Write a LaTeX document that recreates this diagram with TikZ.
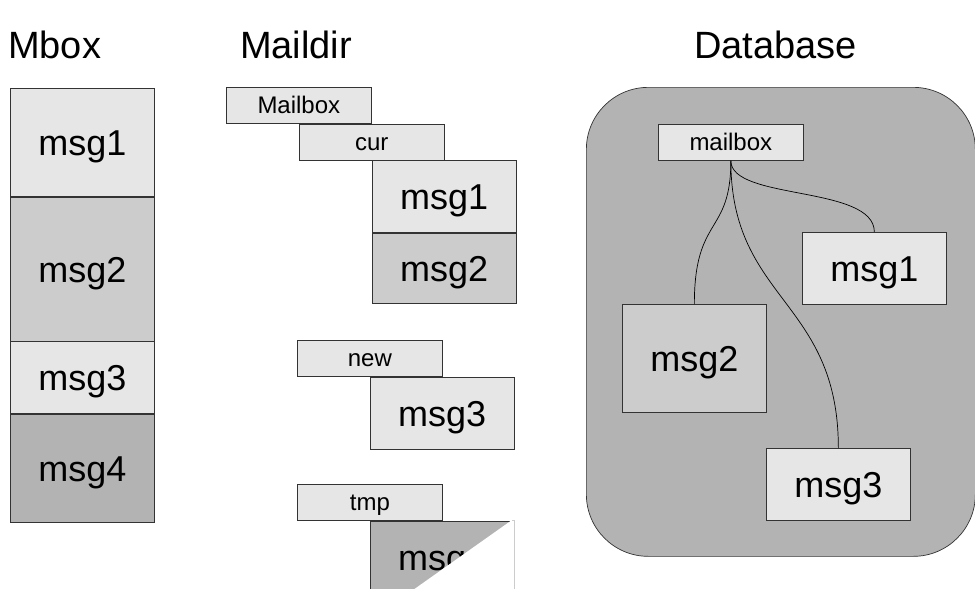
\documentclass[tikz,border=0pt]{standalone}
\usepackage{fontspec}
\setmainfont{Liberation Sans}
\usetikzlibrary{positioning}
\definecolor{msglight}{HTML}{E6E6E6}
\definecolor{msgmid}{HTML}{CCCCCC}
\definecolor{msgdark}{HTML}{B3B3B3}

\begin{document}
\begin{tikzpicture}[x=1pt, y=-1pt,
  msgbox/.style={draw=black!80, line width=0.7pt, minimum width=144pt, inner sep=0pt, anchor=north west, text height=26pt, text depth=0pt, font=\fontsize{36}{40}\selectfont},
  dirbox/.style={draw=black!80, line width=0.7pt, fill=msglight, minimum width=145pt, minimum height=36pt, inner sep=0pt, anchor=north west, text height=17pt, text depth=0pt, font=\fontsize{24}{28}\selectfont},
  title/.style={anchor=base west, inner sep=0pt, font=\fontsize{38}{44}\selectfont},
  link/.style={draw=black, line width=0.7pt}]
    \useasboundingbox (0,0) rectangle (975,589);

    % titles
    \node[title] (tmbox) at (8,58) {Mbox};
    \node[title] (tmaildir) at (240,58) {Maildir};
    \node[title] (tdb) at (694,58) {Database};

    % mbox: one file
    \node[msgbox, fill=msglight, minimum height=108pt] (mb1) at (10,88) {msg1};
    \node[msgbox, fill=msgmid, minimum height=144pt, below=0pt of mb1] (mb2) {msg2};
    \node[msgbox, fill=msglight, minimum height=72pt, below=0pt of mb2] (mb3) {msg3};
    \node[msgbox, fill=msgdark, minimum height=108pt, below=0pt of mb3] (mb4) {msg4};

    % maildir: folders
    \node[dirbox] (mailbox) at (226,87) {Mailbox};
    \node[dirbox] (cur) at (mailbox.south) {cur};
    \node[msgbox, fill=msglight, minimum height=72pt] (md1) at (cur.south) {msg1};
    \node[msgbox, fill=msgmid, minimum height=70pt, below=0pt of md1] (md2) {msg2};
    \node[dirbox] (new) at (297,340) {new};
    \node[msgbox, fill=msglight, minimum height=72pt] (md3) at (new.south) {msg3};
    \node[dirbox] (tmp) at (297,484) {tmp};
    \node[msgbox, fill=msgdark, minimum height=72pt] (md4) at (tmp.south) {msg\phantom{4}};
    \fill[white] (512,520) -- (516,520) -- (516,595) -- (406,595) -- cycle;
    \draw[black!20, line width=0.7pt] (512,520) -- (514,520) -- (514,592);

    % database
    \node[draw=black!80, line width=0.7pt, fill=msgdark, rounded corners=62pt, minimum width=389pt, minimum height=469pt, anchor=north west] (db) at (586,87) {};
    \node[dirbox] (dbmailbox) at (658,124) {mailbox};
    \node[msgbox, fill=msglight, minimum height=72pt] (db1) at (802,232) {msg1};
    \node[msgbox, fill=msgmid, minimum height=108pt] (db2) at (622,304) {msg2};
    \node[msgbox, fill=msglight, minimum height=72pt] (db3) at (766,448) {msg3};
    \draw[link] (dbmailbox.south) .. controls +(0,40) and +(0,-47) .. (db1.north);
    \draw[link] (dbmailbox.south) .. controls +(0,75) and +(0,-89) .. (db2.north);
    \draw[link] (dbmailbox.south) .. controls +(0,140) and +(0,-148) .. (db3.north);
\end{tikzpicture}
\end{document}
